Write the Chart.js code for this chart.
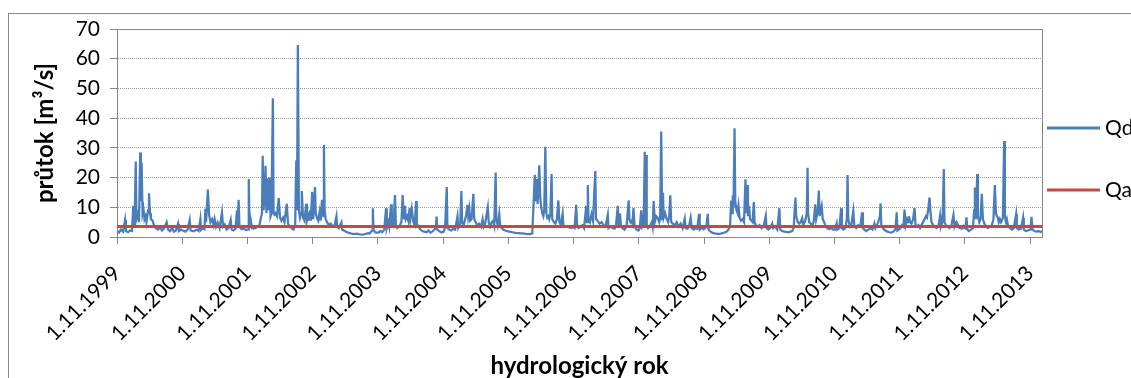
<!DOCTYPE html>
<html lang="cs">
<head>
<meta charset="utf-8">
<title>Průtok</title>
<script src="https://cdn.jsdelivr.net/npm/chart.js@4/dist/chart.umd.min.js"></script>
<style>
  html, body { margin: 0; padding: 0; background: #fff; overflow: hidden; }
  body { width: 1131px; height: 378px; position: relative; }
  .ramecek { position: absolute; left: 8px; top: 13px; width: 1200px; height: 420px; border: 1px solid #878787; }
  #graf { position: absolute; left: 0; top: -8px; }
</style>
</head>
<body>
<div class="ramecek"><canvas id="graf" width="1190" height="375"></canvas></div>
<script>
// popisky osy x (zacatky hydrologickych roku)
const popiskyOsyX = ['1.11.1999', '1.11.2000', '1.11.2001', '1.11.2002', '1.11.2003', '1.11.2004', '1.11.2005',
  '1.11.2006', '1.11.2007', '1.11.2008', '1.11.2009', '1.11.2010', '1.11.2011', '1.11.2012', '1.11.2013'];

// Qa - prumerny prutok [m3/s]
const prumernyPrutok = 3.5;

// Qd - denni prutoky, [den od 1.11., prutok] pro kazdy hydrologicky rok
const hr1999 = [[0,2.0],[11,1.5],[22,2.5],[34,1.8],[45,5.7],[50,2.0],[62,1.6],[73,2.2],[84,2.0],[91,10.5],[98,3.0],[105,25.4],[109,6],[118,8],[123,5],[130,28.4],[134,12],[138,25],[143,8],[148,9.5],[154,6],[160,7],[165,5],[174,9],[179,14.7],[185,8],[190,6],[199,5.5],[207,4],[218,3],[230,2.5],[241,3.2],[252,2.2],[263,2.8],[278,5],[286,2.5],[297,2],[308,3],[319,1.8],[330,2.2],[342,4.5],[347,2],[358,2.5]];
const hr2000 = [[2,2.2],[18,1.8],[30,2.6],[41,5.7],[46,2.2],[63,1.9],[80,2.5],[91,2.0],[101,6],[105,2.4],[114,3],[124,2.6],[129,9.5],[133,5],[143,16],[150,7.4],[158,5],[167,6],[175,4],[181,6],[189,3.5],[198,4.9],[209,3],[222,8.3],[228,3.5],[237,4.2],[248,2.5],[259,3],[271,5.7],[276,2.5],[287,2.2],[298,2.8],[306,9],[310,4],[315,12.5],[320,3.5],[332,2.6],[343,3],[354,2.4]];
const hr2001 = [[3,2.5],[7,19.5],[11,4],[17,6],[25,3],[34,2.8],[45,3],[56,3.5],[67,4],[75,6.5],[81,8],[85,27.3],[90,9],[95,12],[101,24],[106,8],[113,19.8],[118,9],[123,20],[129,7],[134,8],[142,46.7],[146,8],[151,7.5],[157,8],[165,7],[175,13.1],[182,6.5],[190,5.5],[199,6.5],[207,5],[220,11.2],[227,4.5],[235,3.5],[246,3],[258,2.5],[267,4],[273,25.7],[277,9],[282,64.6],[288,9],[294,6.5],[300,8],[304,15.5],[311,6.5],[319,5.5],[329,11.2],[333,5.5],[339,7],[344,5.5],[350,9],[355,5.5],[362,15.2]];
const hr2002 = [[3,6],[13,16.8],[17,8],[23,6.5],[31,5.5],[39,8.5],[45,5.5],[52,12.5],[56,8],[60,7],[63,31],[67,9],[73,6],[81,5],[90,4],[101,4.5],[112,3.5],[123,4],[133,7],[137,3.5],[146,3],[161,4.9],[165,2.5],[179,2],[196,1.5],[213,1.2],[230,1.0],[246,1.1],[263,0.9],[280,0.8],[297,1],[308,1.3],[319,1.2],[333,2.2],[337,9.7],[341,2.5],[350,1.6],[358,1.5]];
const hr2003 = [[3,1.5],[14,2.0],[25,1.6],[36,2.5],[46,9.7],[50,3],[59,5],[64,3.5],[74,11],[78,4],[87,3.5],[96,14.1],[101,4],[109,3],[120,3.5],[132,5],[139,14.1],[146,6],[152,10.5],[157,6],[165,7],[171,5.5],[178,9.7],[182,6],[190,9.5],[199,5],[207,4],[214,12.1],[218,4.5],[227,3.5],[238,2.5],[249,2],[260,1.8],[272,1.6],[283,2.2],[294,1.5],[305,1.8],[316,2.5],[325,3],[329,6.9],[333,2.5],[344,2],[356,1.5]];
const hr2004 = [[3,1.8],[11,3.5],[20,16.8],[24,3],[34,2.5],[45,2.2],[56,2.8],[67,2.5],[80,7],[84,3],[95,4],[102,15.5],[106,5],[115,4],[123,6],[129,7.5],[136,10.8],[140,7],[146,9.5],[151,5.5],[159,6],[169,14.5],[174,6],[182,5],[190,4],[202,4.5],[213,3.5],[221,6],[227,3.5],[235,4.5],[250,10],[255,5],[263,3.5],[272,5],[280,5.5],[286,4],[294,21.7],[297,6],[305,4],[314,7.8],[319,4],[328,3],[336,2.5],[347,2.2],[358,2]];
const hr2005 = [[6,1.8],[22,1.6],[39,1.4],[56,1.3],[73,1.2],[90,1.1],[106,1.0],[123,1.0],[134,1.2],[141,10.8],[148,20.9],[152,12],[159,19.5],[164,11],[173,24.1],[179,13],[184,10],[190,8],[196,7],[201,9],[207,30.4],[213,8],[218,6.5],[224,7],[229,6],[235,7.5],[242,21.2],[246,6],[255,5],[263,4.5],[272,6],[280,12.3],[286,5],[294,4],[304,7.8],[308,4],[319,3.5],[330,3.5],[342,3.2],[353,3],[361,3.5]];
const hr2006 = [[6,3],[15,10.8],[20,4],[28,3],[39,3.5],[50,4],[59,3],[71,10.5],[76,5],[80,17.5],[84,6],[92,5],[101,7.7],[109,5.5],[122,22.2],[126,6],[134,5.5],[146,4.5],[157,5],[168,4],[179,3.5],[192,7.5],[196,3],[207,3.5],[218,3],[230,2.8],[238,4],[248,10.5],[252,4],[260,8],[266,3.5],[274,3],[286,2.5],[297,3.5],[309,12.3],[313,6],[319,5],[325,5.5],[330,4.5],[336,9.7],[342,3.5],[353,2.5],[364,2.2]];
const hr2007 = [[6,3],[14,9],[20,3.5],[28,4.5],[34,28.7],[36,4],[41,27.6],[45,4],[53,3],[62,3.5],[73,5],[78,3.5],[84,12.1],[90,5],[98,7],[106,6.5],[115,5],[120,6],[126,35.5],[132,6],[136,14.9],[140,6.5],[148,8],[157,6],[165,5],[171,7],[177,14],[182,5],[190,4.5],[202,4],[213,5],[224,3.5],[235,4.5],[246,3],[258,6.2],[263,3],[274,2.8],[283,4],[291,6.5],[297,3],[308,2.5],[319,3],[328,2.8],[338,7.8],[342,2.5],[353,3],[364,2.6]];
const hr2008 = [[6,3],[14,4],[21,7.8],[25,2.5],[36,1.8],[48,1.4],[59,1.2],[70,1.1],[81,1.0],[92,1.1],[104,1.3],[115,1.5],[126,1.8],[137,2.5],[146,4],[152,12.3],[157,8],[161,14],[165,10],[171,36.6],[175,12],[182,9],[188,8],[193,10.5],[199,6.5],[207,5.5],[216,6],[224,5],[232,19.4],[238,8],[242,17.5],[246,7],[252,10.5],[258,6],[266,5.5],[272,5],[279,11.8],[283,5],[291,4],[300,3.5],[311,4],[322,3],[333,3.5],[346,7.1],[350,3],[361,2.5]];
const hr2009 = [[6,3],[17,4.5],[22,3],[34,3.5],[45,2.5],[57,9.7],[62,2.5],[73,2],[84,1.8],[95,1.7],[106,1.6],[118,1.8],[129,2],[137,3],[147,13.3],[151,7],[160,5],[168,4.5],[176,5],[185,6.4],[190,4],[199,5],[204,6],[210,8],[215,23.3],[218,8],[224,5],[232,4.5],[241,4],[249,5],[258,11],[263,6],[272,8.5],[278,15.6],[283,7],[288,9],[294,10.5],[300,6],[308,5],[316,3.5],[325,3],[336,2.6],[347,3],[358,2.5]];
const hr2010 = [[3,2.5],[13,4.6],[17,2.5],[28,3],[38,9.7],[42,3],[50,2.5],[62,3],[70,6],[74,20.9],[78,6],[87,3.5],[95,4],[106,8.7],[112,3.5],[123,3],[134,4],[146,3.5],[155,8.3],[160,3],[168,2.5],[179,2],[190,2.5],[202,3],[213,2.5],[224,4.6],[230,3],[238,4],[246,5],[255,7],[259,11.3],[263,4],[274,2.8],[286,2.2],[297,1.8],[308,1.6],[319,1.5],[330,1.8],[342,2.5],[349,8.3],[353,2.2],[361,2.5]];
const hr2011 = [[6,3],[14,4],[22,3.5],[28,9.2],[34,4],[42,6],[48,5],[53,7],[59,5],[67,4.5],[76,6],[84,9.7],[90,4],[98,3.5],[106,4],[115,3],[123,4],[132,5],[140,6],[148,7],[154,6.5],[160,9],[168,13.3],[174,8],[179,5],[188,4],[196,3.5],[207,3],[218,3.5],[227,7.2],[232,3.5],[241,5],[248,22.9],[252,5],[260,4],[269,3.5],[280,3],[291,4],[302,7.4],[308,3.5],[319,5],[328,4],[336,3],[347,2.8],[356,3],[361,3.5]];
const hr2012 = [[3,3],[9,6.6],[14,2.5],[22,2],[34,2.5],[45,3],[52,9],[56,16.7],[62,6],[69,21.2],[73,7],[81,5],[87,6],[95,14.5],[101,6],[109,4.5],[118,3.5],[129,3],[140,3.5],[151,4],[160,6],[168,17.5],[174,8],[179,7],[185,6.5],[190,5],[196,6],[202,5],[207,5.5],[213,6.5],[220,32.3],[224,7],[230,5],[235,6],[241,4],[252,3],[263,2.5],[274,3],[287,7.7],[291,3],[302,2.5],[314,2.8],[326,6.5],[330,2.5],[342,2],[353,2.2],[364,2.5]];
const hr2013 = [[3,2.5],[8,6.8],[14,2.5],[25,2],[36,1.8],[48,2],[59,1.7],[67,2]];

const hydroRoky = [[1999, hr1999], [2000, hr2000], [2001, hr2001], [2002, hr2002], [2003, hr2003], [2004, hr2004],
  [2005, hr2005], [2006, hr2006], [2007, hr2007], [2008, hr2008], [2009, hr2009], [2010, hr2010],
  [2011, hr2011], [2012, hr2012], [2013, hr2013]];

const DEN = 86400000;

function denZDatumu(txt) {
  const [d, m, r] = txt.split('.').map(Number);
  return Date.UTC(r, m - 1, d) / DEN;
}

// poskladat denni rady do jedne
const qd = [];
hydroRoky.forEach(([rok, hodnoty]) => {
  const zacatek = Date.UTC(rok, 10, 1) / DEN;
  hodnoty.forEach(([den, q]) => qd.push({ x: zacatek + den, y: q }));
});

const znackyOsyX = popiskyOsyX.map(denZDatumu);
const prvniDen = znackyOsyX[0];
const posledniDen = qd[qd.length - 1].x;
const qa = [{ x: prvniDen, y: prumernyPrutok }, { x: posledniDen, y: prumernyPrutok }];

const sedaOsa = '#868686';
Chart.defaults.font.family = 'Lato';
Chart.defaults.color = '#000';

// legenda vpravo od grafu (jako v Excelu)
const legendaVpravo = {
  id: 'legendaVpravo',
  afterDraw(chart) {
    const { ctx, chartArea } = chart;
    const x0 = chartArea.right + 5;
    ctx.save();
    ctx.font = '21px Lato';
    ctx.textBaseline = 'middle';
    chart.data.datasets.forEach((ds, i) => {
      const y = chartArea.top + 99 + i * 62;
      ctx.strokeStyle = ds.borderColor;
      ctx.lineWidth = 3;
      ctx.beginPath();
      ctx.moveTo(x0, y);
      ctx.lineTo(x0 + 53, y);
      ctx.stroke();
      ctx.fillStyle = '#000';
      ctx.fillText(ds.label, x0 + 58, y);
    });
    ctx.restore();
  }
};

const ctx = document.getElementById('graf').getContext('2d');
new Chart(ctx, {
  type: 'line',
  data: {
    datasets: [
      {
        label: 'Qd',
        data: qd,
        borderColor: '#4a7ebb',
        backgroundColor: '#4a7ebb',
        borderWidth: 2.25,
        pointRadius: 0,
        tension: 0,
        xAxisID: 'x',
        yAxisID: 'y',
        order: 1
      },
      {
        label: 'Qa',
        data: qa,
        borderColor: '#be4b48',
        backgroundColor: '#be4b48',
        borderWidth: 3,
        pointRadius: 0,
        tension: 0,
        xAxisID: 'x',
        yAxisID: 'y',
        order: 0
      }
    ]
  },
  options: {
    responsive: false,
    animation: false,
    events: [],
    layout: { padding: { left: 0, top: 0, right: 137, bottom: 0 } },
    plugins: {
      legend: { display: false },
      tooltip: { enabled: false }
    },
    scales: {
      x: {
        type: 'linear',
        position: 'bottom',
        min: prvniDen,
        max: posledniDen,
        grid: { drawOnChartArea: false, drawTicks: true, tickLength: 7, color: sedaOsa },
        border: { color: sedaOsa, width: 1 },
        ticks: {
          autoSkip: false,
          minRotation: 45,
          maxRotation: 45,
          padding: 17,
          font: { size: 21 },
          callback: (v, i) => popiskyOsyX[i]
        },
        title: {
          display: true,
          text: 'hydrologický rok',
          font: { size: 24, weight: 'bold' },
          padding: { top: 0, bottom: 0 }
        },
        afterBuildTicks: s => { s.ticks = znackyOsyX.map(v => ({ value: v })); },
        afterFit: s => { s.height = 144; }
      },
      y: {
        min: 0,
        max: 70,
        ticks: { stepSize: 10, padding: 10, font: { size: 21 } },
        grid: { color: '#9a9a9a', tickColor: sedaOsa, tickLength: 7 },
        border: { color: sedaOsa, dash: [1, 1] },
        title: {
          display: true,
          text: 'průtok [m³/s]',
          font: { size: 24, weight: 'bold' },
          padding: { top: 22, bottom: 0 }
        },
        afterFit: s => { s.width = 108; }
      },
      xHorni: {
        type: 'linear',
        position: 'top',
        ticks: { display: false },
        grid: { display: false, drawTicks: false },
        border: { display: true, color: sedaOsa },
        afterFit: s => { s.height = 23; }
      },
      yPrava: {
        type: 'linear',
        position: 'right',
        min: 0,
        max: 70,
        ticks: { display: false },
        grid: { display: false, drawTicks: false },
        border: { display: true, color: sedaOsa },
        afterFit: s => { s.width = 20; }
      }
    }
  },
  plugins: [legendaVpravo]
});
</script>
</body>
</html>
